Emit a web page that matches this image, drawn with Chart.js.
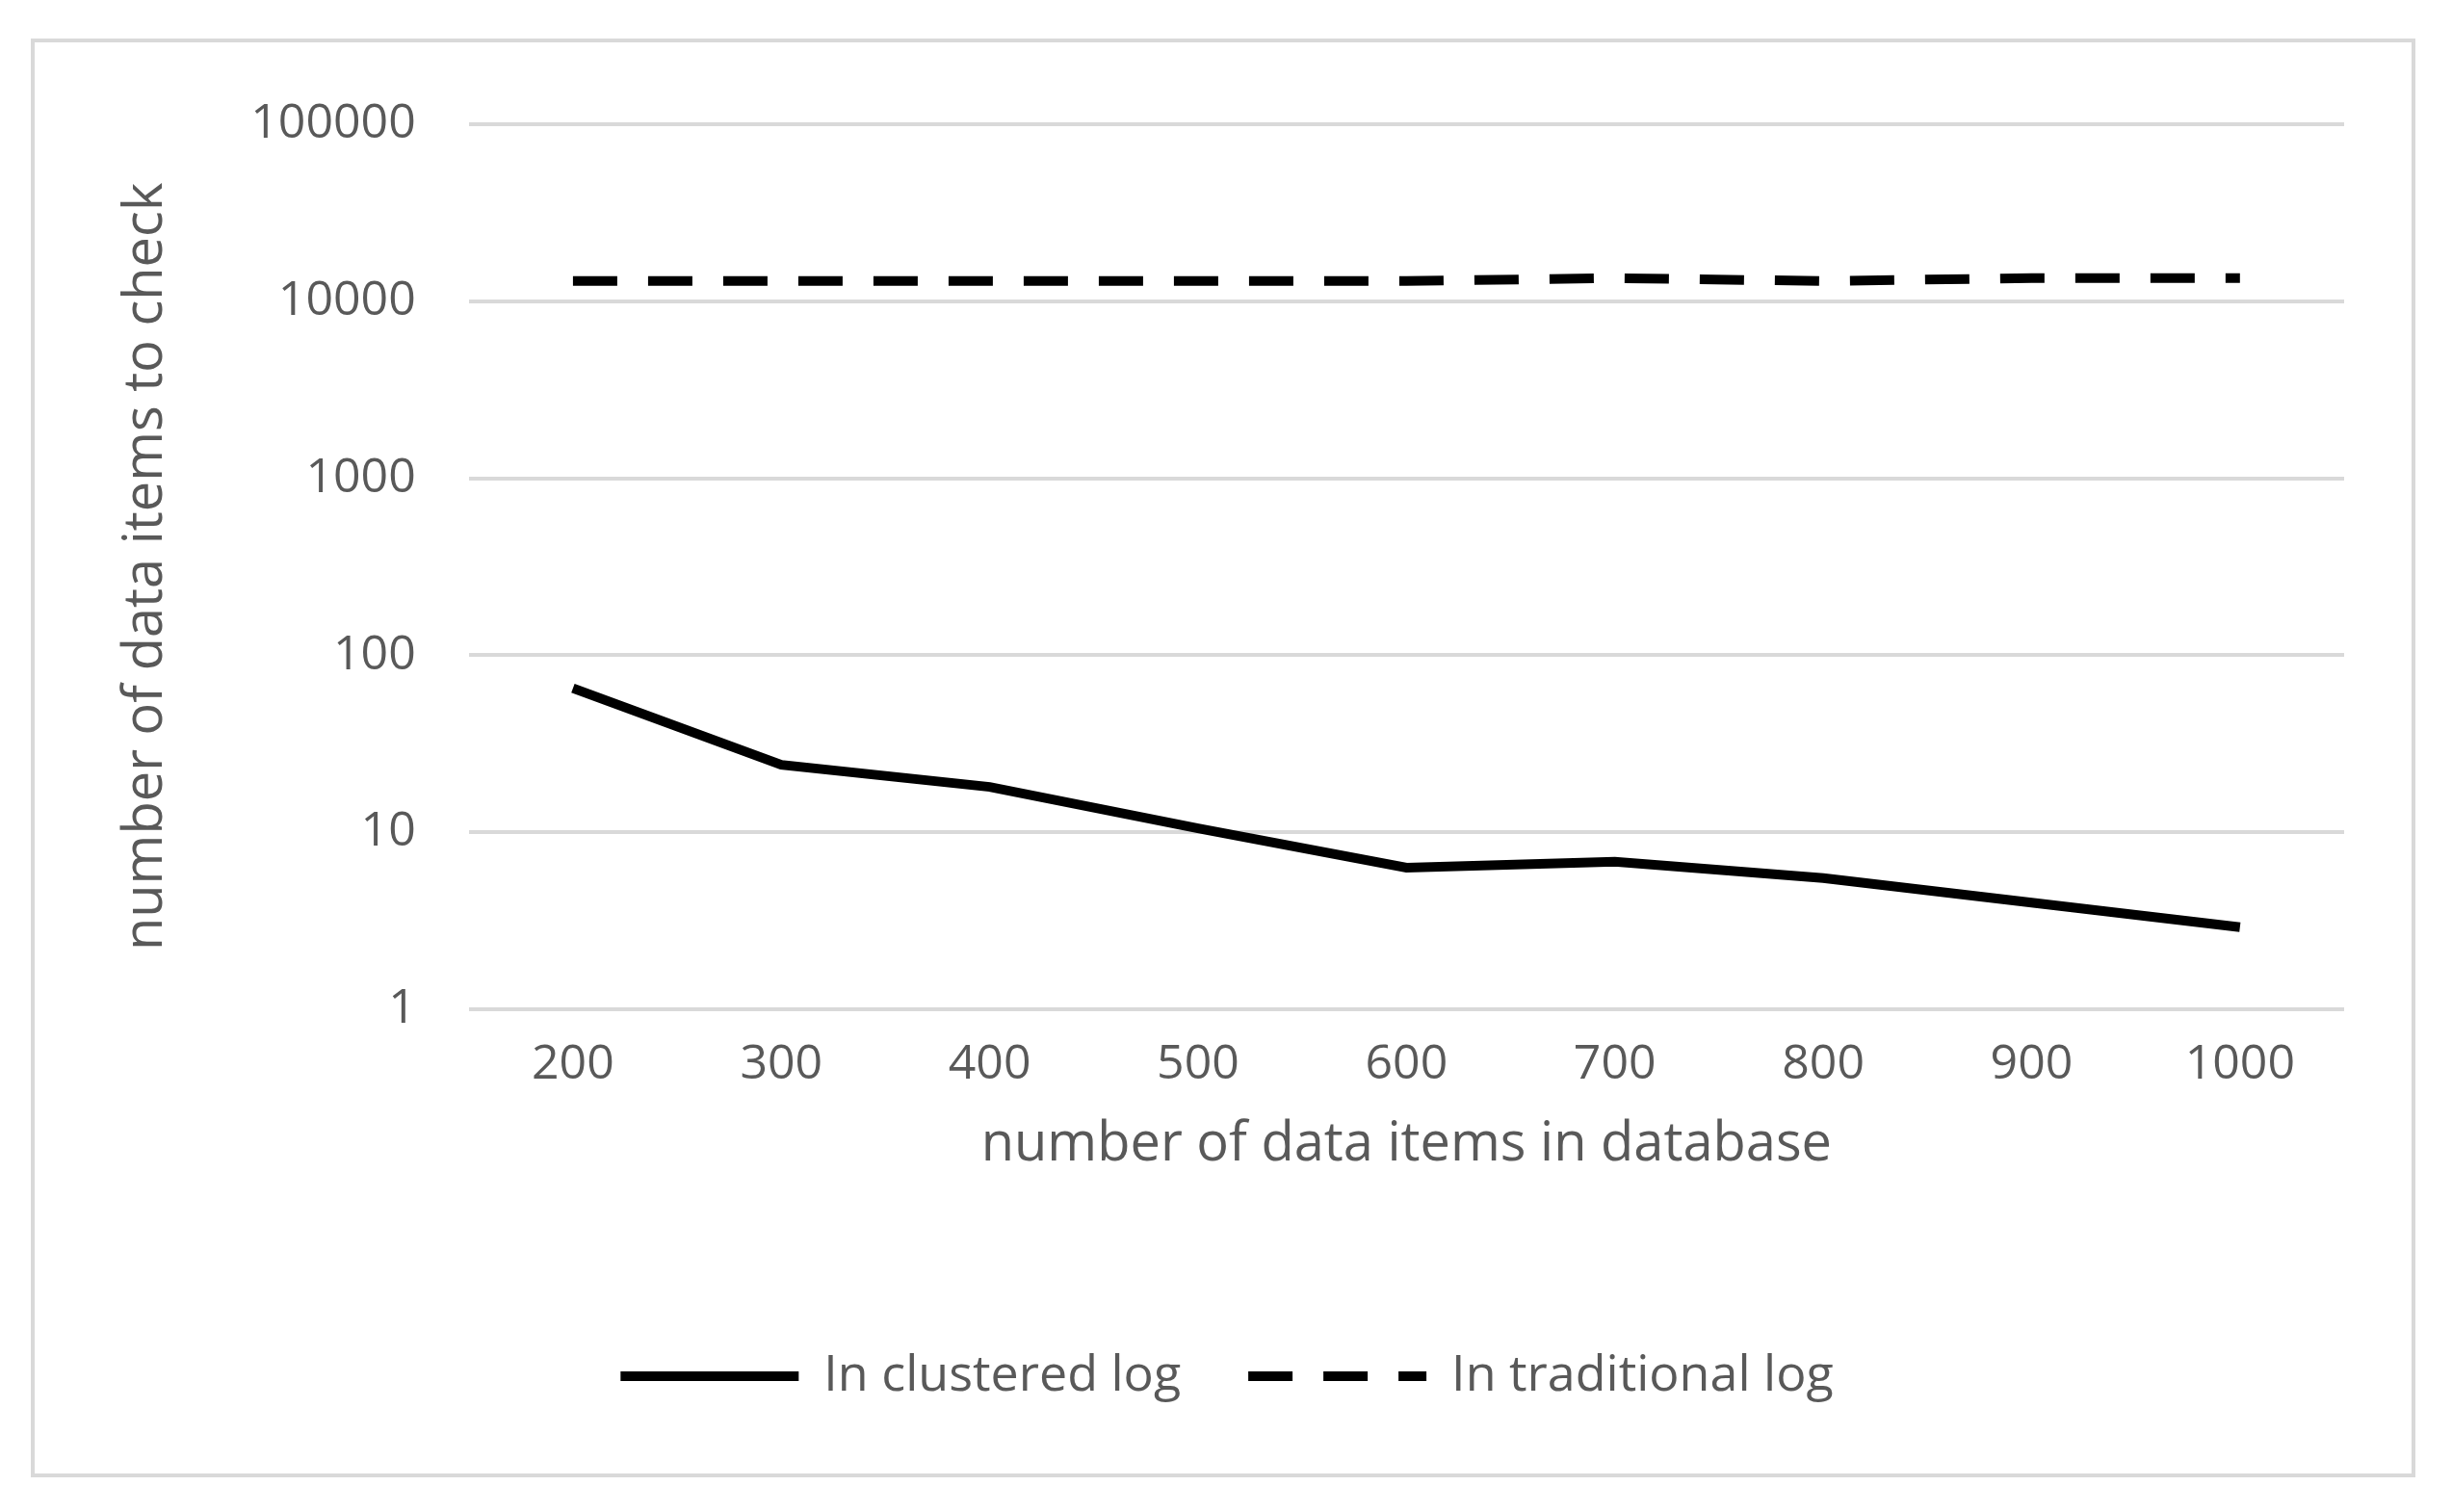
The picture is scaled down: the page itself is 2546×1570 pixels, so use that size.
<!DOCTYPE html>
<html><head><meta charset="utf-8">
<script src="https://cdn.jsdelivr.net/npm/chart.js@4"></script>
<style>
html,body{margin:0;padding:0;background:#fff;width:2546px;height:1570px;overflow:hidden}
#box{position:absolute;left:32px;top:40px;width:2476px;height:1494px;border:4px solid #d9d9d9;box-sizing:border-box}
#c{position:absolute;left:0;top:0}
</style></head><body>
<div id="box"><canvas id="c"></canvas></div>
<script>
const categories=['200','300','400','500','600','700','800','900','1000'];
const clustered=[65,24,18,10.5,6.3,6.8,5.5,4,2.9];
const traditional=[13000,13000,13000,13000,13000,13500,13000,13500,13500];
const yTicks=[1,10,100,1000,10000,100000];
const grey='#595959', font='"Open Sans", Arial, sans-serif';
const cv=document.getElementById('c');
cv.width=2468;cv.height=1486;cv.style.width='2468px';cv.style.height='1486px';
new Chart(cv,{type:'line',
data:{labels:categories,datasets:[
{label:'In clustered log',data:clustered,borderColor:'#000',backgroundColor:'#000',borderWidth:10,pointRadius:0,tension:0},
{label:'In traditional log',data:traditional,borderColor:'#000',backgroundColor:'#000',borderWidth:10,borderDash:[46,32],pointRadius:0,tension:0}]},
options:{responsive:false,animation:false,
layout:{padding:{left:78,right:70,top:45,bottom:65}},
plugins:{legend:{position:'bottom',labels:{usePointStyle:true,pointStyle:'line',pointStyleWidth:185,color:grey,font:{family:font,size:52},padding:70,
 generateLabels:ch=>ch.data.datasets.map((d,i)=>({text:d.label,datasetIndex:i,fillStyle:'#000',strokeStyle:'#000',lineWidth:10,lineDash:d.borderDash||[],pointStyle:'line',fontColor:grey,hidden:false}))}},tooltip:{enabled:false}},
scales:{
x:{offset:true,grid:{display:false},border:{display:false},ticks:{color:grey,font:{family:font,size:50},padding:20},
 title:{display:true,text:'number of data items in database',color:grey,font:{family:font,size:56},padding:{top:0,bottom:110}}},
y:{type:'logarithmic',min:1,max:100000,afterBuildTicks:a=>{a.ticks=yTicks.map(v=>({value:v}));},
 grid:{color:'#d9d9d9',lineWidth:4,drawTicks:false},border:{display:false},
 ticks:{color:grey,font:{family:font,size:50},padding:55,callback:v=>String(v)},
 title:{display:true,text:'number of data items to check',color:grey,font:{family:font,size:56},padding:{bottom:20}}}}}});
</script></body></html>
